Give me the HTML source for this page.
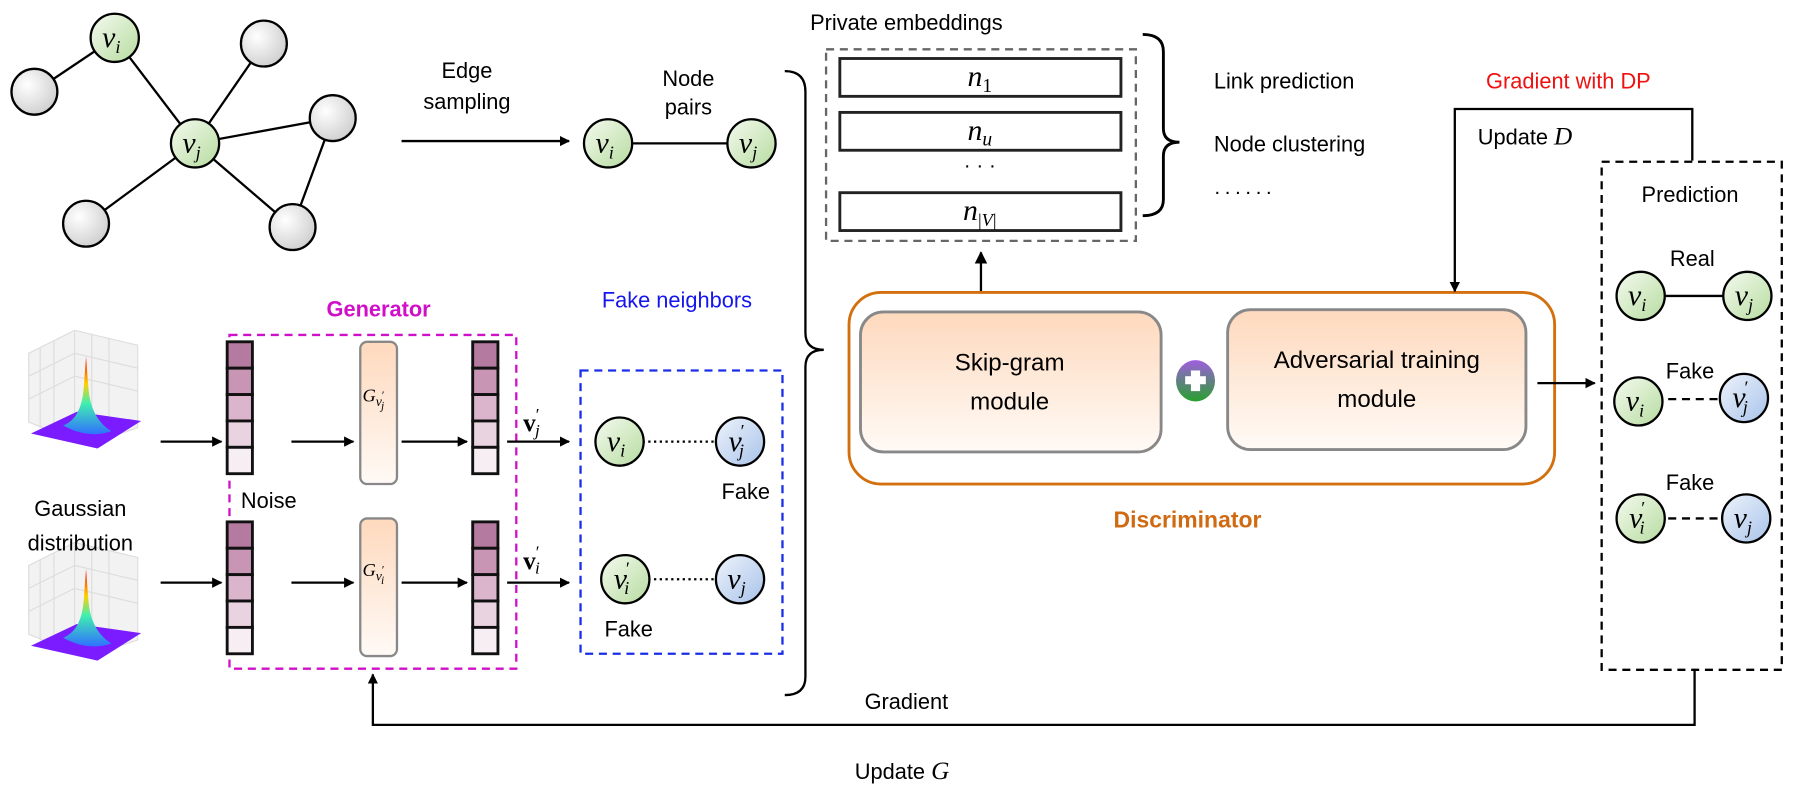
<!DOCTYPE html>
<html><head><meta charset="utf-8"><style>html,body{margin:0;padding:0;background:#fff}svg{display:block}</style></head>
<body>
<svg width="1799" height="796" viewBox="0 0 1568 694" preserveAspectRatio="none" xmlns="http://www.w3.org/2000/svg" font-family="Liberation Sans, sans-serif">
<defs>
<radialGradient id="gray" cx="35%" cy="35%" r="70%"><stop offset="0" stop-color="#ffffff"/><stop offset="1" stop-color="#cfcfcf"/></radialGradient>
<linearGradient id="green" x1="0" y1="0" x2="1" y2="1"><stop offset="0" stop-color="#f4faef"/><stop offset="1" stop-color="#b7dca0"/></linearGradient>
<linearGradient id="blue" x1="0" y1="0" x2="1" y2="1"><stop offset="0" stop-color="#eef3fb"/><stop offset="1" stop-color="#a8c3ea"/></linearGradient>
<linearGradient id="peach" x1="0" y1="0" x2="0" y2="1"><stop offset="0" stop-color="#fed9bd"/><stop offset="1" stop-color="#fffaf6"/></linearGradient>
<linearGradient id="plus" x1="0" y1="0" x2="0" y2="1"><stop offset="0" stop-color="#a05ee0"/><stop offset="1" stop-color="#27a02c"/></linearGradient>
<linearGradient id="peak" x1="0" y1="0" x2="0" y2="1"><stop offset="0" stop-color="#ff0000"/><stop offset="0.35" stop-color="#ffd000"/><stop offset="0.6" stop-color="#40f0b0"/><stop offset="1" stop-color="#3070ff"/></linearGradient>
<marker id="ar" viewBox="0 0 10 10" refX="9" refY="5" markerWidth="9" markerHeight="9" markerUnits="userSpaceOnUse" orient="auto"><path d="M0,0L10,5L0,10z" fill="#000"/></marker>
<marker id="ar2" viewBox="0 0 10 10" refX="9" refY="5" markerWidth="11" markerHeight="11" markerUnits="userSpaceOnUse" orient="auto"><path d="M0,0L10,5L0,10z" fill="#000"/></marker>
<g id="gauss">
<polygon points="20,25 60,5 115,18 115,90 70,105 20,85" fill="#f2f2f2" stroke="#ddd"/>
<g stroke="#ddd" stroke-width="1"><line x1="30" y1="20" x2="30" y2="90"/><line x1="42" y1="14" x2="42" y2="95"/><line x1="60" y1="5" x2="60" y2="80"/><line x1="75" y1="8" x2="75" y2="85"/><line x1="90" y1="12" x2="90" y2="90"/><line x1="20" y1="45" x2="60" y2="25"/><line x1="20" y1="65" x2="60" y2="45"/><line x1="60" y1="25" x2="115" y2="38"/><line x1="60" y1="45" x2="115" y2="58"/></g>
<polygon points="22,95 62,76 118,84 80,108" fill="#7a1cff"/>
<path d="M50,88 Q66,82 68,55 L70,28 L72,55 Q74,82 92,93 Q72,100 50,88z" fill="url(#peak)"/>
</g>
</defs>

<!-- graph -->
<g stroke="#000" stroke-width="2">
<line x1="100" y1="33" x2="30" y2="80"/><line x1="100" y1="33" x2="170" y2="125"/>
<line x1="170" y1="125" x2="230" y2="38"/><line x1="170" y1="125" x2="290" y2="103"/>
<line x1="170" y1="125" x2="75" y2="195"/><line x1="170" y1="125" x2="255" y2="198"/>
<line x1="290" y1="103" x2="255" y2="198"/>
</g>
<g stroke="#000" stroke-width="2" fill="url(#gray)">
<circle cx="30" cy="80" r="20"/><circle cx="230" cy="38" r="20"/><circle cx="290" cy="103" r="20"/><circle cx="75" cy="195" r="20"/><circle cx="255" cy="198" r="20"/>
</g>
<g stroke="#000" stroke-width="2" fill="url(#green)"><circle cx="100" cy="33" r="21"/><circle cx="170" cy="125" r="21"/></g>
<g font-family="Liberation Serif, serif" font-style="italic" font-size="26" text-anchor="middle">
<text x="97" y="41">v<tspan font-size="16" dy="5">i</tspan></text>
<text x="167" y="133">v<tspan font-size="16" dy="5">j</tspan></text>
</g>

<g font-size="19" text-anchor="middle">
<text x="407" y="68">Edge</text><text x="407" y="95">sampling</text>
<text x="600" y="75">Node</text><text x="600" y="100">pairs</text>
</g>
<line x1="350" y1="123" x2="496" y2="123" stroke="#000" stroke-width="2" marker-end="url(#ar)"/>
<line x1="530" y1="125" x2="655" y2="125" stroke="#000" stroke-width="2"/>
<g stroke="#000" stroke-width="2" fill="url(#green)"><circle cx="530" cy="125" r="21"/><circle cx="655" cy="125" r="21"/></g>
<g font-family="Liberation Serif, serif" font-style="italic" font-size="26" text-anchor="middle">
<text x="527" y="133">v<tspan font-size="16" dy="5">i</tspan></text>
<text x="652" y="133">v<tspan font-size="16" dy="5">j</tspan></text>
</g>

<!-- big brace -->
<path d="M684,62 Q702,62 702,80 L702,290 Q702,305 718,305 Q702,305 702,320 L702,590 Q702,606 684,606" fill="none" stroke="#000" stroke-width="2"/>

<!-- private embeddings -->
<text x="790" y="26" font-size="19" text-anchor="middle">Private embeddings</text>
<rect x="720" y="43" width="270" height="167" fill="none" stroke="#666" stroke-width="2" stroke-dasharray="7,5"/>
<g fill="#fff" stroke="#222" stroke-width="2.5">
<rect x="732" y="51" width="245" height="33"/><rect x="732" y="98" width="245" height="33"/><rect x="732" y="168" width="245" height="33"/>
</g>
<g font-family="Liberation Serif, serif" font-style="italic" font-size="26" text-anchor="middle">
<text x="854" y="75">n<tspan font-style="normal" font-size="17" dy="5">1</tspan></text>
<text x="854" y="122">n<tspan font-size="17" dy="5">u</tspan></text>
<text x="854" y="192">n<tspan font-style="normal" font-size="16" dy="5">|</tspan><tspan font-size="16">V</tspan><tspan font-style="normal" font-size="16">|</tspan></text>
</g>
<text x="854" y="150" font-size="18" text-anchor="middle">· · ·</text>
<line x1="855" y1="256" x2="855" y2="220" stroke="#000" stroke-width="2" marker-end="url(#ar2)"/>

<path d="M996,30 Q1014,30 1014,45 L1014,112 Q1014,124 1028,124 Q1014,124 1014,136 L1014,174 Q1014,188 996,188" fill="none" stroke="#000" stroke-width="2.5"/>
<g font-size="19"><text x="1058" y="77">Link prediction</text><text x="1058" y="132">Node clustering</text></g>
<text x="1058" y="173" font-size="18" letter-spacing="3">······</text>

<!-- discriminator -->
<rect x="740" y="255" width="615" height="167" rx="28" fill="#fff" stroke="#d2700f" stroke-width="2.5"/>
<rect x="750" y="272" width="262" height="122" rx="20" fill="url(#peach)" stroke="#888" stroke-width="2.5"/>
<rect x="1070" y="270" width="260" height="122" rx="20" fill="url(#peach)" stroke="#888" stroke-width="2.5"/>
<g font-size="21" text-anchor="middle">
<text x="880" y="323">Skip-gram</text><text x="880" y="357">module</text>
<text x="1200" y="321">Adversarial training</text><text x="1200" y="355">module</text>
</g>
<ellipse cx="1042" cy="332" rx="17" ry="18" fill="url(#plus)"/>
<rect x="1033" y="328" width="18" height="7" fill="#fff"/><rect x="1038" y="323" width="8" height="18" fill="#fff"/>
<text x="1035" y="460" font-size="20" font-weight="bold" fill="#d06a12" text-anchor="middle">Discriminator</text>
<line x1="1340" y1="334" x2="1390" y2="334" stroke="#000" stroke-width="2" marker-end="url(#ar)"/>

<!-- update D -->
<text x="1367" y="77" font-size="19" fill="#ee1111" text-anchor="middle">Gradient with DP</text>
<path d="M1475,140 L1475,95 L1268,95 L1268,254" fill="none" stroke="#000" stroke-width="2" marker-end="url(#ar)"/>
<text x="1288" y="126" font-size="19">Update <tspan font-family="Liberation Serif, serif" font-style="italic" font-size="22">D</tspan></text>

<!-- prediction -->
<rect x="1396" y="141" width="157" height="443" fill="#fff" stroke="#000" stroke-width="2" stroke-dasharray="7,5"/>
<g font-size="19" text-anchor="middle">
<text x="1473" y="176">Prediction</text><text x="1475" y="232">Real</text><text x="1473" y="330">Fake</text><text x="1473" y="427">Fake</text>
</g>
<line x1="1430" y1="258" x2="1522" y2="258" stroke="#000" stroke-width="2"/>
<line x1="1430" y1="348" x2="1522" y2="348" stroke="#000" stroke-width="2" stroke-dasharray="7,5"/>
<line x1="1430" y1="452" x2="1522" y2="452" stroke="#000" stroke-width="2" stroke-dasharray="7,5"/>
<g stroke="#000" stroke-width="2">
<circle cx="1430" cy="258" r="21" fill="url(#green)"/><circle cx="1523" cy="258" r="21" fill="url(#green)"/>
<circle cx="1428" cy="350" r="21" fill="url(#green)"/><circle cx="1520" cy="347" r="21" fill="url(#blue)"/>
<circle cx="1430" cy="452" r="21" fill="url(#green)"/><circle cx="1522" cy="452" r="21" fill="url(#blue)"/>
</g>
<g font-family="Liberation Serif, serif" font-style="italic" font-size="26" text-anchor="middle">
<text x="1427" y="266">v<tspan font-size="16" dy="5">i</tspan></text>
<text x="1520" y="266">v<tspan font-size="16" dy="5">j</tspan></text>
<text x="1425" y="358">v<tspan font-size="16" dy="5">i</tspan></text>
<text x="1517" y="355">v<tspan font-size="16" dx="-1" dy="-12" font-style="normal">′</tspan><tspan font-size="16" dx="-5" dy="17">j</tspan></text>
<text x="1427" y="460">v<tspan font-size="16" dx="-1" dy="-12" font-style="normal">′</tspan><tspan font-size="16" dx="-5" dy="17">i</tspan></text>
<text x="1519" y="460">v<tspan font-size="16" dy="5">j</tspan></text>
</g>

<!-- bottom feedback -->
<path d="M1477,584 L1477,632 L325,632 L325,588" fill="none" stroke="#000" stroke-width="2" marker-end="url(#ar)"/>
<text x="790" y="618" font-size="19" text-anchor="middle">Gradient</text>
<text x="745" y="679" font-size="19">Update <tspan font-family="Liberation Serif, serif" font-style="italic" font-size="22">G</tspan></text>

<!-- gaussian -->
<use href="#gauss" x="5" y="283"/>
<use href="#gauss" x="5" y="468"/>
<g font-size="19" text-anchor="middle"><text x="70" y="450">Gaussian</text><text x="70" y="480">distribution</text></g>

<!-- generator -->
<text x="330" y="276" font-size="19" font-weight="bold" fill="#d010c8" text-anchor="middle">Generator</text>
<rect x="200" y="292" width="250" height="291" fill="none" stroke="#d010c8" stroke-width="2" stroke-dasharray="7,5"/>
<g stroke="#111" stroke-width="2.5">
<g id="col">
<rect x="198" y="298" width="22" height="23" fill="#b57a9f"/><rect x="198" y="321" width="22" height="23" fill="#c895b4"/><rect x="198" y="344" width="22" height="23" fill="#dbb5cc"/><rect x="198" y="367" width="22" height="23" fill="#ead3e0"/><rect x="198" y="390" width="22" height="23" fill="#f7eef3"/>
</g>
<use href="#col" x="214" y="0"/>
<use href="#col" x="0" y="157"/>
<use href="#col" x="214" y="157"/>
</g>
<rect x="314" y="298" width="32" height="124" rx="6" fill="url(#peach)" stroke="#888" stroke-width="2"/>
<rect x="314" y="452" width="32" height="120" rx="6" fill="url(#peach)" stroke="#888" stroke-width="2"/>
<g font-family="Liberation Serif, serif" font-style="italic" font-size="16">
<text x="316" y="350">G<tspan font-size="12" dy="4">v</tspan><tspan font-size="10" dy="-6" font-style="normal">′</tspan><tspan font-size="10" dx="-3" dy="9">j</tspan></text>
<text x="316" y="502">G<tspan font-size="12" dy="4">v</tspan><tspan font-size="10" dy="-6" font-style="normal">′</tspan><tspan font-size="10" dx="-3" dy="9">i</tspan></text>
</g>
<text x="210" y="443" font-size="19">Noise</text>
<g stroke="#000" stroke-width="2">
<line x1="140" y1="385" x2="193" y2="385" marker-end="url(#ar)"/><line x1="254" y1="385" x2="308" y2="385" marker-end="url(#ar)"/><line x1="350" y1="385" x2="407" y2="385" marker-end="url(#ar)"/><line x1="442" y1="385" x2="496" y2="385" marker-end="url(#ar)"/>
<line x1="140" y1="508" x2="193" y2="508" marker-end="url(#ar)"/><line x1="254" y1="508" x2="308" y2="508" marker-end="url(#ar)"/><line x1="350" y1="508" x2="407" y2="508" marker-end="url(#ar)"/><line x1="442" y1="508" x2="496" y2="508" marker-end="url(#ar)"/>
</g>
<g font-family="Liberation Serif, serif" font-size="22" font-weight="bold">
<text x="456" y="376">v<tspan font-weight="normal" font-size="15" dy="-10">′</tspan><tspan font-weight="normal" font-style="italic" font-size="15" dx="-4" dy="14">j</tspan></text>
<text x="456" y="496">v<tspan font-weight="normal" font-size="15" dy="-10">′</tspan><tspan font-weight="normal" font-style="italic" font-size="15" dx="-4" dy="14">i</tspan></text>
</g>

<!-- fake neighbors -->
<text x="590" y="268" font-size="19" fill="#1515ee" text-anchor="middle">Fake neighbors</text>
<rect x="506" y="323" width="176" height="247" fill="none" stroke="#1a2ee8" stroke-width="2" stroke-dasharray="7,5"/>
<line x1="560" y1="385" x2="625" y2="385" stroke="#000" stroke-width="2" stroke-dasharray="2,3"/>
<line x1="565" y1="505" x2="625" y2="505" stroke="#000" stroke-width="2" stroke-dasharray="2,3"/>
<g stroke="#000" stroke-width="2">
<circle cx="540" cy="385" r="21" fill="url(#green)"/><circle cx="645" cy="385" r="21" fill="url(#blue)"/>
<circle cx="545" cy="505" r="21" fill="url(#green)"/><circle cx="645" cy="505" r="21" fill="url(#blue)"/>
</g>
<g font-family="Liberation Serif, serif" font-style="italic" font-size="26" text-anchor="middle">
<text x="537" y="393">v<tspan font-size="16" dy="5">i</tspan></text>
<text x="642" y="393">v<tspan font-size="16" dx="-1" dy="-12" font-style="normal">′</tspan><tspan font-size="16" dx="-5" dy="17">j</tspan></text>
<text x="542" y="513">v<tspan font-size="16" dx="-1" dy="-12" font-style="normal">′</tspan><tspan font-size="16" dx="-5" dy="17">i</tspan></text>
<text x="642" y="513">v<tspan font-size="16" dy="5">j</tspan></text>
</g>
<g font-size="19" text-anchor="middle"><text x="650" y="435">Fake</text><text x="548" y="555">Fake</text></g>
</svg>
</body></html>
